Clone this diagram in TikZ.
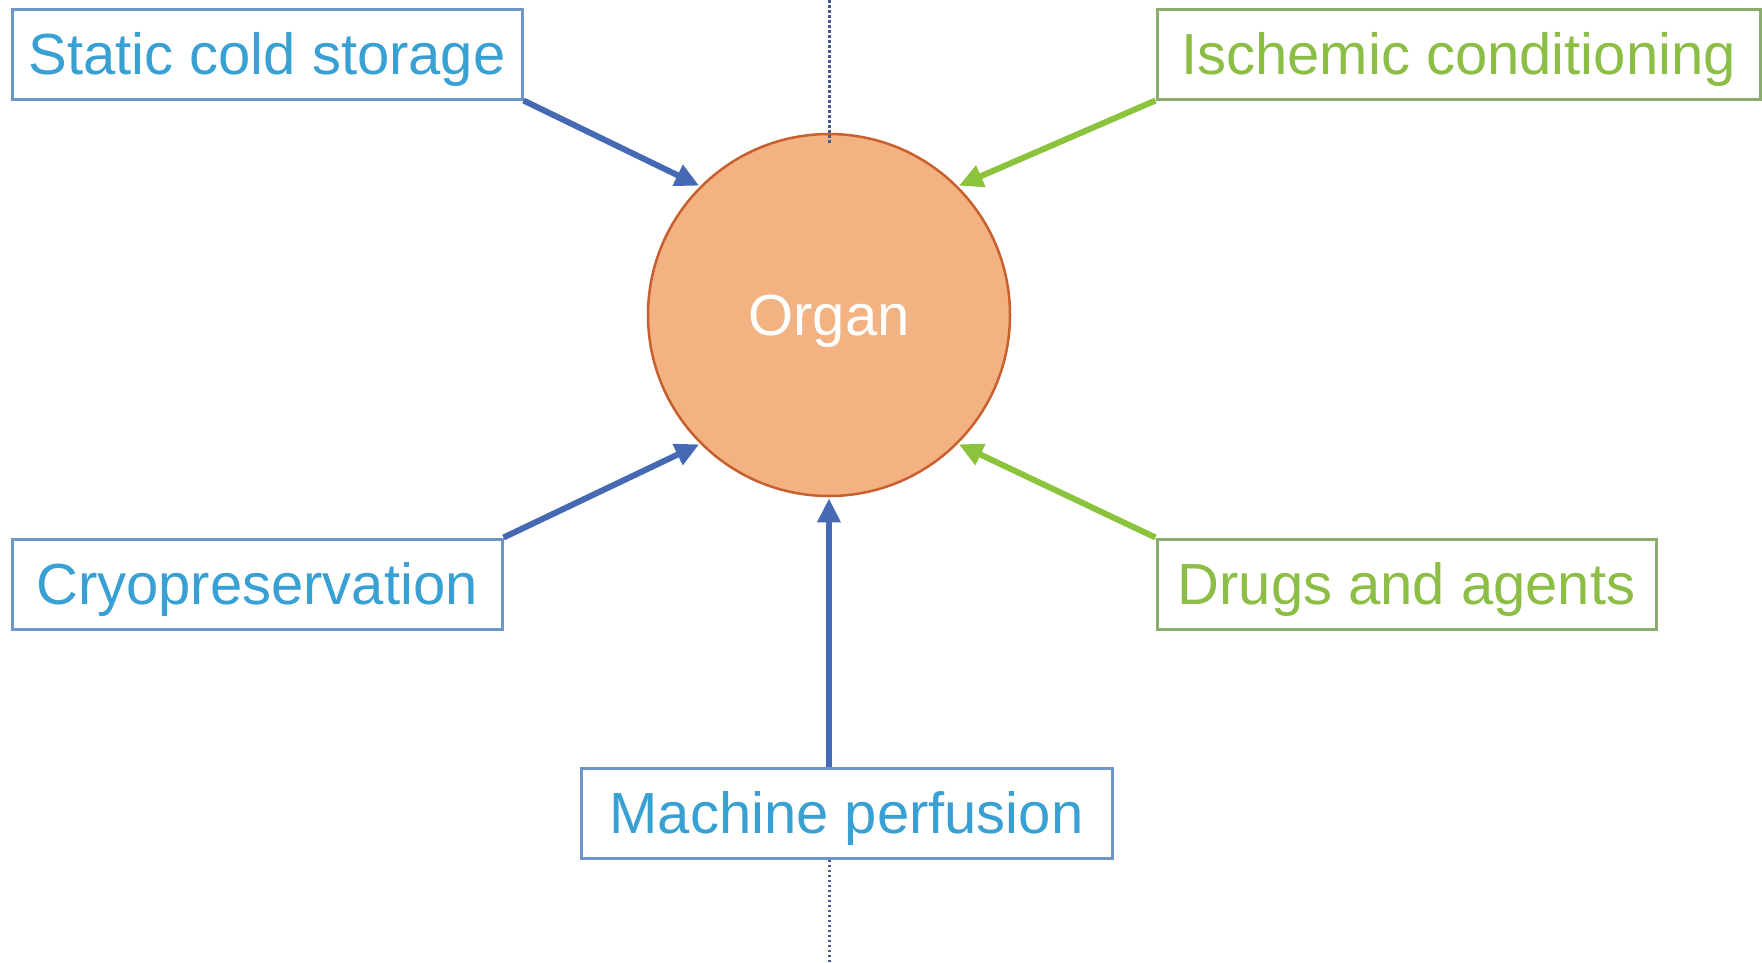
\documentclass[tikz,border=0pt]{standalone}
\usepackage{fontspec}
\setmainfont{Liberation Sans}
\usetikzlibrary{arrows.meta}
\definecolor{btext}{RGB}{56,160,210}
\definecolor{bborder}{RGB}{110,150,200}
\definecolor{barrow}{RGB}{70,105,180}
\definecolor{gtext}{RGB}{140,190,70}
\definecolor{gborder}{RGB}{140,172,110}
\definecolor{garrow}{RGB}{140,195,60}
\definecolor{orgfill}{RGB}{242,178,130}
\definecolor{orgborder}{RGB}{200,95,45}
\definecolor{dotcol}{RGB}{70,90,140}
\tikzset{
  labelbox/.style={draw, line width=3pt, fill=white, rectangle, inner xsep=0pt, inner ysep=0pt,
    minimum height=90pt, text height=41.5pt, text depth=0pt,
    font=\fontsize{58pt}{64pt}\selectfont},
  bluebox/.style={labelbox, draw=bborder, text=btext},
  greenbox/.style={labelbox, draw=gborder, text=gtext},
  conn/.style={line width=6pt, -{Triangle[length=24pt,width=22pt]}, shorten >=1pt},
  blueconn/.style={conn, draw=barrow, fill=barrow},
  greenconn/.style={conn, draw=garrow, fill=garrow},
  axisline/.style={draw=dotcol, line width=3pt, dash pattern=on 2.5pt off 2.5pt}
}
\begin{document}
\begin{tikzpicture}[x=1pt,y=-1pt]
\useasboundingbox (0,0) rectangle (1762,962);
\fill[white] (0,0) rectangle (1762,962);
\node[circle, draw=orgborder, line width=2.5pt, fill=orgfill, minimum size=362pt, inner sep=0pt,
      text=white, text height=41.5pt, text depth=0pt,
      font=\fontsize{58pt}{64pt}\selectfont] (organ) at (829,315) {Organ};
\node[bluebox, minimum width=510pt] (scs) at (267,54) {Static cold storage};
\node[greenbox, minimum width=603pt] (isc) at (1458.5,54) {Ischemic conditioning};
\node[bluebox, minimum width=490pt] (cryo) at (257,584) {Cryopreservation};
\node[greenbox, minimum width=499pt] (drugs) at (1406.5,584) {Drugs and agents};
\node[bluebox, minimum width=531pt] (mach) at (846.5,813) {Machine perfusion};
\coordinate (top) at (829,0);
\coordinate (bot) at (829,962);
\draw[axisline] (top) -- ([yshift=-10pt]organ.north);
\draw[axisline] (mach.south -| bot) -- (bot);
\draw[blueconn] (scs.south east) -- (organ.135);
\draw[greenconn] (isc.south west) -- (organ.45);
\draw[blueconn] (cryo.north east) -- (organ.225);
\draw[greenconn] (drugs.north west) -- (organ.315);
\draw[blueconn] (organ.south |- mach.north) -- (organ.south);
\end{tikzpicture}
\end{document}
